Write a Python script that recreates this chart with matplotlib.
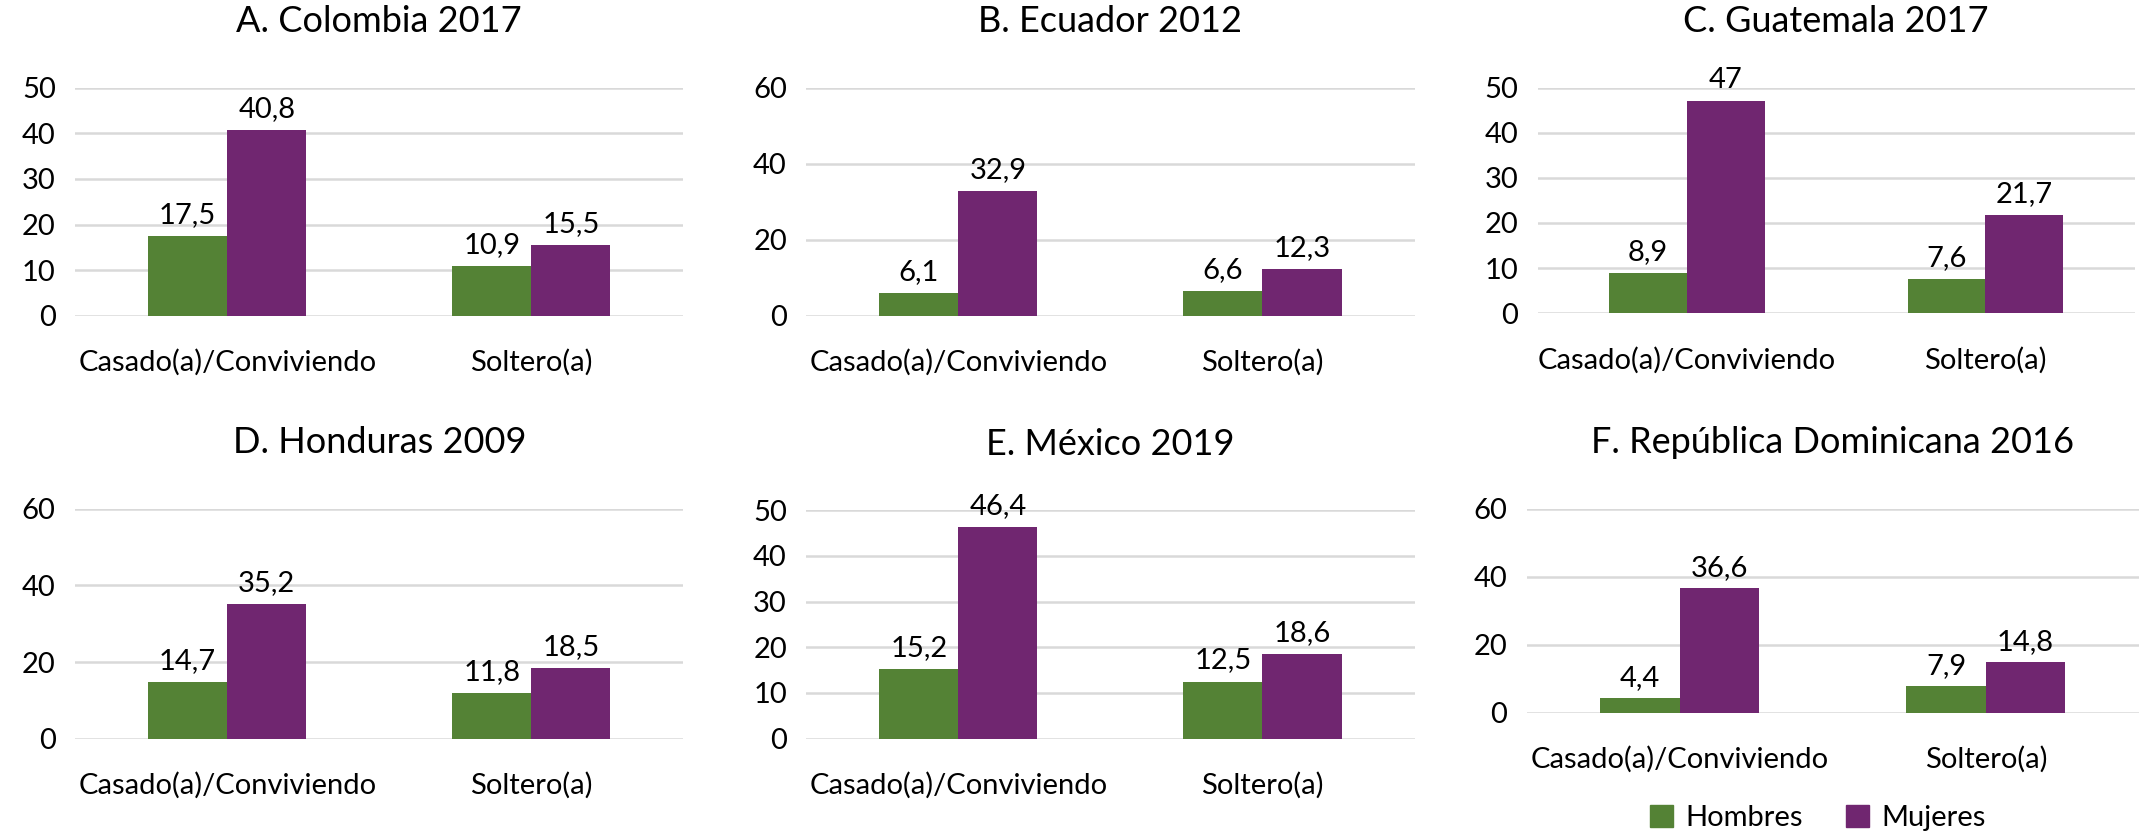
import matplotlib
matplotlib.use('Agg')
import matplotlib.pyplot as plt
import numpy as np
from matplotlib.patches import Patch

plt.rcParams['font.family'] = ['Lato', 'DejaVu Sans']

categories = ['Casado(a)/Conviviendo', 'Soltero(a)']
titles = ['A. Colombia 2017', 'B. Ecuador 2012', 'C. Guatemala 2017',
          'D. Honduras 2009', 'E. México 2019', 'F. República Dominicana 2016']
hombres = [[17.5, 10.9], [6.1, 6.6], [8.9, 7.6],
           [14.7, 11.8], [15.2, 12.5], [4.4, 7.9]]
mujeres = [[40.8, 15.5], [32.9, 12.3], [47, 21.7],
           [35.2, 18.5], [46.4, 18.6], [36.6, 14.8]]
ymax = [50, 60, 50, 60, 50, 60]
ystep = [10, 20, 10, 20, 10, 20]

green = '#548235'
purple = '#702670'

W, H = 1568, 609
# panel boxes in pixel coords of the shrunk reference: left, right, top, bottom
boxes = [(55, 500, 64, 231), (590, 1035, 64, 231), (1125, 1562, 64, 229),
         (55, 500, 372, 540), (590, 1035, 373, 540), (1117, 1565, 372, 521)]

fig = plt.figure(figsize=(21.43, 8.33), dpi=100)

def fmt(v):
    s = ('%.1f' % v).replace('.', ',')
    return s[:-2] if s.endswith(',0') else s

x = np.arange(len(categories))
bw = 0.26
fs = 21
for i in range(6):
    l, r, t, b = boxes[i]
    ax = fig.add_axes([l / W, 1 - b / H, (r - l) / W, (b - t) / H])
    ax.bar(x - bw / 2, hombres[i], bw, color=green, zorder=3)
    ax.bar(x + bw / 2, mujeres[i], bw, color=purple, zorder=3)
    for j in range(len(categories)):
        ax.text(x[j] - bw / 2, hombres[i][j] + ymax[i] * 0.035, fmt(hombres[i][j]),
                ha='center', va='bottom', fontsize=fs)
        ax.text(x[j] + bw / 2, mujeres[i][j] + ymax[i] * 0.035, fmt(mujeres[i][j]),
                ha='center', va='bottom', fontsize=fs)
    ax.set_xlim(-0.5, 1.5)
    ax.set_ylim(0, ymax[i])
    ax.set_yticks(np.arange(0, ymax[i] + 1, ystep[i]))
    ax.set_xticks(x)
    ax.set_xticklabels(categories)
    ax.tick_params(length=0, labelsize=fs)
    ax.tick_params(axis='x', pad=24)
    ax.tick_params(axis='y', pad=14)
    ax.grid(axis='y', color='#d9d9d9', linewidth=1.8, zorder=0)
    for pos in ['right', 'top', 'left', 'bottom']:
        ax.spines[pos].set_visible(False)
    ax.set_title(titles[i], fontsize=26, pad=40)

handles = [Patch(color=green, label='Hombres'), Patch(color=purple, label='Mujeres')]
fig.legend(handles=handles, loc='center', bbox_to_anchor=(1330 / W, 1 - 598 / H),
           ncol=2, frameon=False, fontsize=fs, handlelength=0.8, handleheight=0.8,
           handletextpad=0.4, columnspacing=1.5)

fig.savefig('out.png', dpi=100)
